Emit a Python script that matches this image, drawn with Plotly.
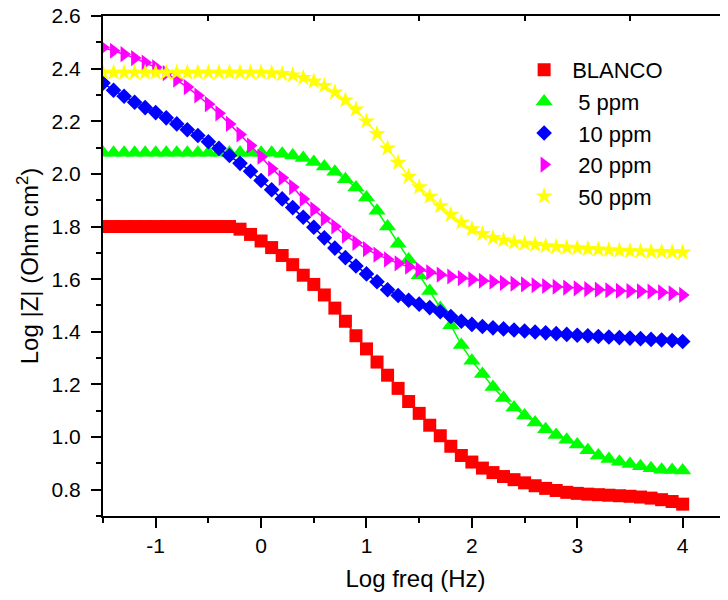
import plotly.graph_objects as go

# log frequency grid (Hz), 10 points per decade
log_freq = [-1.5, -1.4, -1.3, -1.2, -1.1, -1.0, -0.9, -0.8, -0.7, -0.6,
            -0.5, -0.4, -0.3, -0.2, -0.1, 0.0, 0.1, 0.2, 0.3, 0.4,
            0.5, 0.6, 0.7, 0.8, 0.9, 1.0, 1.1, 1.2, 1.3, 1.4,
            1.5, 1.6, 1.7, 1.8, 1.9, 2.0, 2.1, 2.2, 2.3, 2.4,
            2.5, 2.6, 2.7, 2.8, 2.9, 3.0, 3.1, 3.2, 3.3, 3.4,
            3.5, 3.6, 3.7, 3.8, 3.9, 4.0]

blanco = [1.80, 1.80, 1.80, 1.80, 1.80, 1.80, 1.80, 1.80, 1.80, 1.80,
          1.80, 1.80, 1.80, 1.79, 1.77, 1.745, 1.72, 1.69, 1.655, 1.615,
          1.58, 1.54, 1.49, 1.44, 1.385, 1.335, 1.285, 1.235, 1.185, 1.135,
          1.09, 1.045, 1.005, 0.965, 0.93, 0.905, 0.882, 0.865, 0.85, 0.838,
          0.826, 0.815, 0.805, 0.797, 0.79, 0.786, 0.783, 0.781, 0.779, 0.777,
          0.775, 0.772, 0.768, 0.762, 0.755, 0.745]

ppm5 = [2.08, 2.08, 2.08, 2.08, 2.08, 2.08, 2.08, 2.08, 2.08, 2.08,
        2.08, 2.08, 2.08, 2.08, 2.08, 2.08, 2.08, 2.077, 2.07, 2.06,
        2.045, 2.028, 2.008, 1.98, 1.948, 1.91, 1.86, 1.80, 1.735, 1.675,
        1.615, 1.555, 1.49, 1.425, 1.35, 1.29, 1.24, 1.19, 1.148, 1.112,
        1.082, 1.055, 1.03, 1.008, 0.99, 0.972, 0.95, 0.93, 0.917, 0.906,
        0.898, 0.889, 0.881, 0.876, 0.875, 0.873]

ppm10 = [2.345, 2.318, 2.295, 2.272, 2.252, 2.233, 2.213, 2.19, 2.168, 2.146,
         2.122, 2.097, 2.07, 2.04, 2.01, 1.975, 1.94, 1.905, 1.872, 1.835,
         1.797, 1.757, 1.718, 1.682, 1.65, 1.62, 1.59, 1.56, 1.538, 1.52,
         1.505, 1.492, 1.476, 1.458, 1.44, 1.428, 1.42, 1.415, 1.411, 1.407,
         1.403, 1.399, 1.396, 1.393, 1.39, 1.387, 1.385, 1.382, 1.38, 1.378,
         1.376, 1.374, 1.371, 1.369, 1.367, 1.363]

ppm20 = [2.48, 2.468, 2.455, 2.44, 2.423, 2.405, 2.383, 2.358, 2.33, 2.298,
         2.265, 2.23, 2.19, 2.15, 2.108, 2.065, 2.02, 1.985, 1.95, 1.905,
         1.865, 1.83, 1.80, 1.765, 1.738, 1.714, 1.693, 1.675, 1.66, 1.647,
         1.636, 1.626, 1.617, 1.61, 1.604, 1.599, 1.594, 1.59, 1.586, 1.583,
         1.58, 1.577, 1.574, 1.571, 1.568, 1.565, 1.562, 1.56, 1.558, 1.556,
         1.555, 1.554, 1.553, 1.55, 1.546, 1.54]

ppm50 = [2.385, 2.385, 2.385, 2.385, 2.385, 2.385, 2.385, 2.385, 2.385, 2.385,
         2.385, 2.385, 2.385, 2.385, 2.385, 2.385, 2.383, 2.38, 2.375, 2.365,
         2.352, 2.335, 2.31, 2.28, 2.245, 2.20, 2.152, 2.097, 2.043, 1.99,
         1.95, 1.914, 1.878, 1.845, 1.815, 1.79, 1.772, 1.757, 1.748, 1.74,
         1.735, 1.731, 1.726, 1.723, 1.72, 1.718, 1.715, 1.713, 1.711, 1.709,
         1.707, 1.706, 1.705, 1.704, 1.703, 1.702]

x_ticks = [-1, 0, 1, 2, 3, 4]
x_tick_text = ['-1', '0', '1', '2', '3', '4']

series = [
    ('BLANCO', blanco, '#ff0000', 'square', 13),
    (' 5 ppm', ppm5, '#00ff00', 'triangle-up', 15),
    (' 10 ppm', ppm10, '#0000ff', 'diamond', 12),
    (' 20 ppm', ppm20, '#ff00ff', 'triangle-right', 14),
    (' 50 ppm', ppm50, '#ffff00', 'star', 13),
]

font = 'Arial, Liberation Sans, sans-serif'

fig = go.Figure()
for i, (name, vals, color, symbol, size) in enumerate(series):
    # thin connecting line, kept out of the legend
    # (first one sits on the top twin axis so that axis gets drawn)
    fig.add_trace(go.Scatter(x=log_freq, y=vals, mode='lines',
                             line=dict(color=color, width=1.5),
                             xaxis='x2' if i == 0 else 'x',
                             showlegend=False, hoverinfo='skip'))
    fig.add_trace(go.Scatter(x=log_freq, y=vals, mode='markers', name=name,
                             marker=dict(symbol=symbol, size=size, color=color,
                                         line=dict(width=0))))

# the page body has an 8px margin, so the figure is sized/offset for it
fig.update_layout(
    width=720, height=584,
    margin=dict(l=95, r=0, t=8, b=76),
    plot_bgcolor='white', paper_bgcolor='white',
    font=dict(family=font, color='black'),
    showlegend=True,
    legend=dict(x=0.661, y=0.934, xanchor='left', yanchor='top',
                bgcolor='rgba(0,0,0,0)', font=dict(size=22),
                itemwidth=46, tracegroupgap=0),
    xaxis=dict(
        range=[-1.5, 4.43], showgrid=False, zeroline=False, automargin=False,
        showline=True, linewidth=2, linecolor='black', mirror=True,
        ticks='outside', ticklen=10, tickwidth=2, tickcolor='black',
        tickvals=x_ticks, ticktext=x_tick_text, tickfont=dict(size=21),
        ticklabelstandoff=0, ticklabeloverflow='allow',
        minor=dict(ticks='outside', ticklen=5, tickwidth=2, tickcolor='black',
                   tick0=0, dtick=0.5),
        title=dict(text='Log freq (Hz)', font=dict(size=24), standoff=19),
    ),
    xaxis2=dict(
        range=[-1.5, 4.43], overlaying='x', side='top', anchor='y',
        automargin=False,
        showgrid=False, zeroline=False, showline=True, linewidth=2,
        linecolor='black', ticks='inside', ticklen=5, tickwidth=2,
        tickcolor='black', tick0=-0.5, dtick=1, showticklabels=False,
    ),
    yaxis=dict(
        range=[0.7, 2.6], showgrid=False, zeroline=False, automargin=False,
        showline=True, linewidth=2, linecolor='black',
        ticks='outside', ticklen=10, tickwidth=2, tickcolor='black',
        tick0=0, dtick=0.2, tickformat='.1f', tickfont=dict(size=21),
        ticklabelstandoff=6, ticklabeloverflow='allow',
        minor=dict(ticks='outside', ticklen=5, tickwidth=2, tickcolor='black',
                   tick0=0, dtick=0.1),
        title=dict(text='Log |Z| (Ohm cm<sup>2</sup>)', font=dict(size=24),
                   standoff=6),
    ),
)

fig.write_html('out.html')
